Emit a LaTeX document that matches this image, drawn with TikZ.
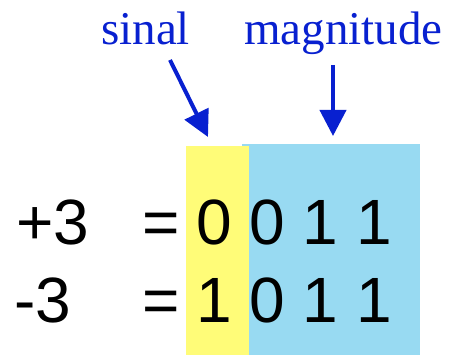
\documentclass[tikz,border=0pt]{standalone}
\usepackage{fontspec}
\setmainfont{Liberation Serif}
\newfontfamily\digitfont{Liberation Sans}
\usetikzlibrary{arrows.meta}
\definecolor{signyellow}{RGB}{255,252,120}
\definecolor{magblue}{RGB}{152,218,242}
\definecolor{labelblue}{RGB}{8,32,208}
\begin{document}
\begin{tikzpicture}[x=1pt,y=-1pt,
  txt/.style={anchor=base west,inner sep=0pt,font=\digitfont\fontsize{64}{64}\selectfont},
  lbl/.style={anchor=base west,inner sep=0pt,text=labelblue,font=\fontsize{47}{47}\selectfont},
  pointer/.style={draw=labelblue,line width=4pt,-{Triangle[length=26pt,width=26pt]}}]
\useasboundingbox (0,0) rectangle (452,355);
% coloured fields
\fill[magblue] (242,144) rectangle (420,355);
\fill[signyellow] (186,146) rectangle (249,355);
% labels
\node[lbl] (sinal) at (101,45) {sinal};
\node[lbl] (mag) at (244,45) {magnitude};
% arrows
\coordinate (s1) at (170,60);
\coordinate (t1) at (208,137);
\coordinate (s2) at (333,65);
\coordinate (t2) at (333,136);
\draw[pointer] (s1) -- (t1);
\draw[pointer] (s2) -- (t2);
% rows
\node[txt] (p3) at (16,244) {+3};
\node[txt] (eq1) at (142,244) {=};
\node[txt] (b1) at (196,244) {0 0 1 1};
\node[txt] (m3) at (14,322) {-3};
\node[txt] (eq2) at (142,322) {=};
\node[txt] (b2) at (196,322) {1 0 1 1};
\end{tikzpicture}
\end{document}
